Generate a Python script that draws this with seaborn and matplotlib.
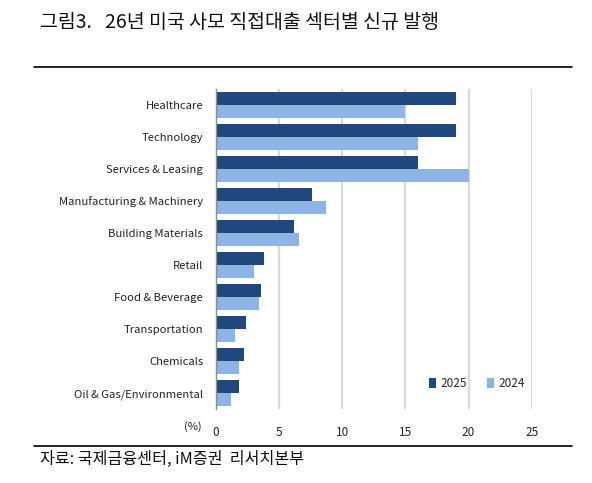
import matplotlib
matplotlib.use("Agg")
import matplotlib.pyplot as plt
import seaborn as sns
import pandas as pd

sectors = ["Healthcare", "Technology", "Services & Leasing", "Manufacturing & Machinery",
           "Building Materials", "Retail", "Food & Beverage", "Transportation",
           "Chemicals", "Oil & Gas/Environmental"]
v2025 = [19.0, 19.0, 16.0, 7.6, 6.2, 3.8, 3.6, 2.4, 2.2, 1.85]
v2024 = [15.0, 16.0, 20.0, 8.7, 6.6, 3.0, 3.45, 1.5, 1.85, 1.2]
years = ["2025", "2024"]
xticks = [0, 5, 10, 15, 20, 25]

title = "그림3.   26년 미국 사모 직접대출 섹터별 신규 발행"
source = "자료: 국제금융센터, iM증권  리서치본부"

sns.set_theme(style="white")
plt.rcParams['font.family'] = ['Noto Sans CJK KR', 'DejaVu Sans']

df = pd.DataFrame({
    "sector": sectors * 2,
    "value": v2025 + v2024,
    "year": [years[0]] * len(sectors) + [years[1]] * len(sectors),
})

W, H = 592, 483
fig = plt.figure(figsize=(W / 100, H / 100), dpi=100)
ax = fig.add_axes([215.7 / W, 1 - 409 / H, 316 / W, 320 / H])

sns.barplot(data=df, y="sector", x="value", hue="year", hue_order=years,
            order=sectors, orient="h", palette=["#1F497D", "#8DB4E2"],
            width=0.8, ax=ax, saturation=1, linewidth=0)

ax.set_xlim(0, 25)
ax.set_ylim(len(sectors) - 0.5, -0.5)
ax.set_xticks(xticks)
ax.set_xticklabels([str(t) for t in xticks])
ax.set_xlabel("")
ax.set_ylabel("")
ax.xaxis.grid(True, color="#d9d9d9", linewidth=1.6)
ax.set_axisbelow(True)
for s in ["top", "right", "bottom"]:
    ax.spines[s].set_visible(False)
ax.spines["left"].set_color("#8c8c8c")
ax.spines["left"].set_linewidth(1.0)
ax.tick_params(axis="x", length=0, pad=12, labelsize=8.5, colors="#222222")
ax.tick_params(axis="y", length=0, pad=9, labelsize=8.1, colors="#222222")

leg = ax.legend(loc="center left", bbox_to_anchor=(0.64, 0.08), ncol=2, frameon=False,
                handlelength=0.6, handleheight=0.9, handletextpad=0.4,
                columnspacing=1.7, fontsize=8.5)

fig.text(202 / W, 1 - 427 / H, "(%)", ha="right", va="center", fontsize=8, color="#222222")
fig.text(40 / W, 1 - 23 / H, title, ha="left", va="center", fontsize=14, color="#111111")
fig.text(40 / W, 1 - 459 / H, source, ha="left", va="center", fontsize=11.6, color="#111111")

fig.add_artist(plt.Line2D([34 / W, 572 / W], [1 - 66.5 / H, 1 - 66.5 / H], color="black", linewidth=1.2))
fig.add_artist(plt.Line2D([34 / W, 572 / W], [1 - 446 / H, 1 - 446 / H], color="black", linewidth=1.2))

fig.savefig("out.png", dpi=100, facecolor="white")
